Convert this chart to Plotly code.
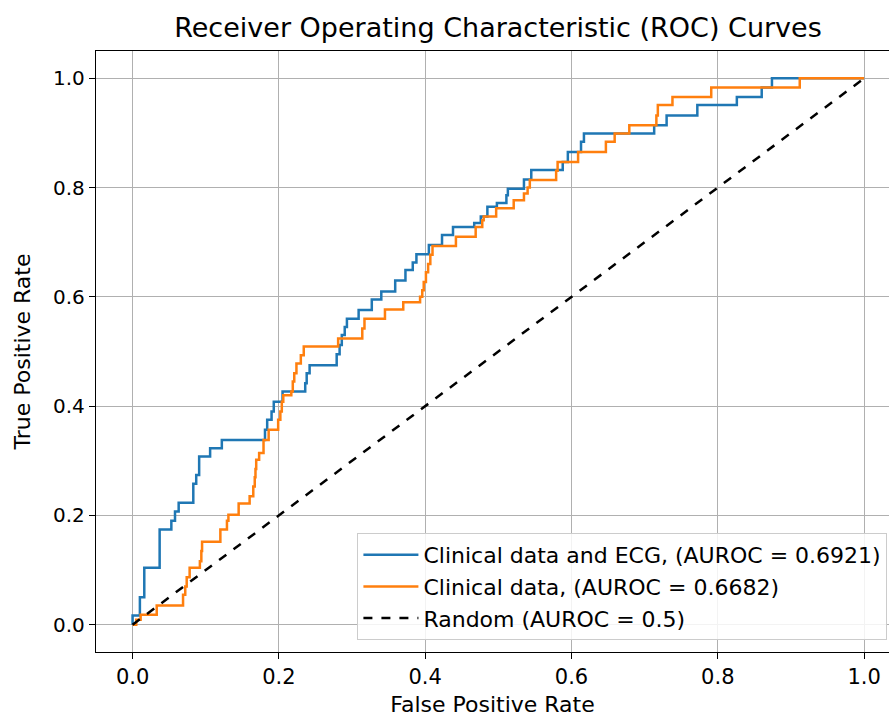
import plotly.graph_objects as go

# Clinical data and ECG (step points: at fpr jump to tpr)
fpr_ecg = [0.0, 0.0, 0.010, 0.016, 0.037, 0.053, 0.058, 0.063, 0.083, 0.087, 0.091, 0.106, 0.122,
           0.181, 0.184, 0.190, 0.193, 0.205, 0.236, 0.238, 0.242, 0.279, 0.283, 0.286, 0.290, 0.293,
           0.309, 0.327, 0.340, 0.359, 0.373, 0.383, 0.388, 0.405, 0.423, 0.438, 0.467, 0.476, 0.485,
           0.498, 0.511, 0.513, 0.535, 0.545, 0.588, 0.595, 0.613, 0.617, 0.713, 0.730, 0.772, 0.826,
           0.860, 0.874, 1.0]
tpr_ecg = [0.0, 0.017, 0.050, 0.104, 0.174, 0.190, 0.207, 0.223, 0.258, 0.274, 0.308, 0.323, 0.338,
           0.357, 0.375, 0.390, 0.408, 0.427, 0.442, 0.460, 0.475, 0.495, 0.512, 0.530, 0.545, 0.560,
           0.576, 0.595, 0.610, 0.630, 0.649, 0.663, 0.678, 0.695, 0.713, 0.728, 0.735, 0.747, 0.765,
           0.772, 0.786, 0.798, 0.815, 0.832, 0.847, 0.865, 0.884, 0.899, 0.914, 0.932, 0.951, 0.966,
           0.983, 1.0, 1.0]

# Clinical data
fpr_clin = [0.0, 0.005, 0.011, 0.033, 0.069, 0.072, 0.074, 0.078, 0.092, 0.094, 0.095, 0.120, 0.129,
            0.131, 0.145, 0.160, 0.165, 0.167, 0.168, 0.169, 0.173, 0.179, 0.186, 0.199, 0.202, 0.204,
            0.206, 0.217, 0.219, 0.221, 0.224, 0.230, 0.234, 0.281, 0.314, 0.317, 0.345, 0.370, 0.393,
            0.396, 0.398, 0.401, 0.404, 0.407, 0.410, 0.442, 0.469, 0.478, 0.480, 0.497, 0.521, 0.535,
            0.540, 0.543, 0.579, 0.581, 0.609, 0.647, 0.659, 0.679, 0.716, 0.718, 0.738, 0.791, 0.912, 1.0]
tpr_clin = [0.0, 0.009, 0.018, 0.035, 0.055, 0.070, 0.087, 0.104, 0.116, 0.135, 0.152, 0.174, 0.190,
            0.201, 0.222, 0.235, 0.253, 0.270, 0.285, 0.302, 0.314, 0.338, 0.357, 0.375, 0.390, 0.408,
            0.420, 0.427, 0.445, 0.460, 0.478, 0.493, 0.509, 0.524, 0.542, 0.560, 0.577, 0.590, 0.600,
            0.612, 0.627, 0.645, 0.660, 0.677, 0.693, 0.710, 0.728, 0.740, 0.747, 0.762, 0.777, 0.789,
            0.800, 0.814, 0.831, 0.847, 0.865, 0.884, 0.899, 0.914, 0.932, 0.951, 0.966, 0.983, 1.0, 1.0]

rand_x = [0.0, 1.0]
rand_y = [0.0, 1.0]

names = ["Clinical data and ECG, (AUROC = 0.6921)",
         "Clinical data, (AUROC = 0.6682)",
         "Random (AUROC = 0.5)"]
tick_vals = [0.0, 0.2, 0.4, 0.6, 0.8, 1.0]
tick_text = ["0.0", "0.2", "0.4", "0.6", "0.8", "1.0"]

FONT = "DejaVu Sans"

fig = go.Figure()
fig.add_trace(go.Scatter(x=fpr_ecg, y=tpr_ecg, mode="lines", name=names[0],
                         line=dict(color="#1f77b4", width=2.5, shape="hv")))
fig.add_trace(go.Scatter(x=fpr_clin, y=tpr_clin, mode="lines", name=names[1],
                         line=dict(color="#ff7f0e", width=2.5, shape="hv")))
fig.add_trace(go.Scatter(x=rand_x, y=rand_y, mode="lines", name=names[2],
                         line=dict(color="black", width=2.5, dash="dash")))

fig.update_layout(
    width=889, height=717,
    margin=dict(l=96, r=0, t=51, b=65),
    paper_bgcolor="white", plot_bgcolor="white",
    font=dict(family=FONT, size=21, color="black"),
    title=dict(text="Receiver Operating Characteristic (ROC) Curves",
               x=498 / 889, xref="container", xanchor="center",
               y=1 - 28 / 717, yref="container", yanchor="middle",
               font=dict(family=FONT, size=27, color="black")),
    legend=dict(x=0.998, y=0.02, xanchor="right", yanchor="bottom",
                bgcolor="rgba(255,255,255,0.85)", bordercolor="#cccccc", borderwidth=1,
                font=dict(family=FONT, size=22, color="black"),
                itemwidth=55, tracegroupgap=0),
    showlegend=True,
)
fig.update_xaxes(range=[-0.05, 1.034], tickvals=tick_vals, ticktext=tick_text,
                 showgrid=True, gridcolor="#b0b0b0", gridwidth=1,
                 showline=True, linecolor="black", linewidth=1.3, mirror=True,
                 ticks="outside", ticklen=6, tickcolor="black", zeroline=False,
                 tickfont=dict(family=FONT, size=21),
                 title=dict(text="False Positive Rate", standoff=10,
                            font=dict(family=FONT, size=22)))
fig.update_yaxes(range=[-0.05, 1.05], tickvals=tick_vals, ticktext=tick_text,
                 showgrid=True, gridcolor="#b0b0b0", gridwidth=1,
                 showline=True, linecolor="black", linewidth=1.3, mirror=False,
                 ticks="outside", ticklen=6, tickcolor="black", zeroline=False,
                 tickfont=dict(family=FONT, size=20),
                 title=dict(text="True Positive Rate", standoff=16,
                            font=dict(family=FONT, size=22)))

fig.write_html("out.html")
